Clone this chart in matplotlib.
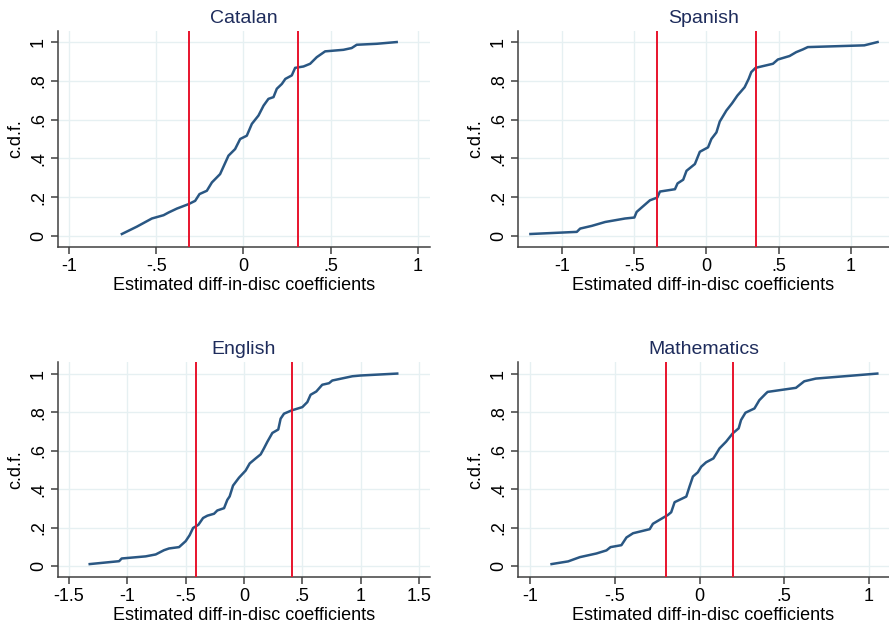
import matplotlib
matplotlib.use("Agg")
import matplotlib.pyplot as plt
import numpy as np

plt.rcParams['font.family'] = ['Liberation Sans', 'DejaVu Sans']

# ---- data ----
cat_x = [-0.697, -0.611, -0.525, -0.458, -0.429, -0.382, -0.315, -0.277, -0.252, -0.210,
         -0.181, -0.134, -0.086, -0.048, -0.019, 0.019, 0.048, 0.086, 0.115, 0.143,
         0.172, 0.191, 0.220, 0.240, 0.277, 0.296, 0.344, 0.382, 0.420, 0.468,
         0.573, 0.620, 0.649, 0.763, 0.878]
cat_y = [0.010, 0.048, 0.090, 0.107, 0.121, 0.141, 0.164, 0.181, 0.216, 0.233,
         0.276, 0.319, 0.414, 0.448, 0.500, 0.517, 0.578, 0.621, 0.672, 0.707,
         0.716, 0.759, 0.784, 0.810, 0.828, 0.867, 0.874, 0.888, 0.922, 0.952,
         0.960, 0.969, 0.986, 0.991, 1.000]

spa_x = [-1.218, -0.897, -0.874, -0.793, -0.701, -0.563, -0.499, -0.483, -0.448, -0.391,
         -0.340, -0.322, -0.218, -0.200, -0.161, -0.138, -0.080, -0.046, 0.011, 0.034,
         0.069, 0.092, 0.138, 0.177, 0.214, 0.264, 0.292, 0.310, 0.340, 0.460,
         0.494, 0.575, 0.621, 0.667, 0.701, 1.092, 1.184]
spa_y = [0.010, 0.021, 0.038, 0.052, 0.072, 0.090, 0.095, 0.124, 0.147, 0.184,
         0.198, 0.229, 0.241, 0.271, 0.290, 0.336, 0.371, 0.434, 0.457, 0.500,
         0.534, 0.590, 0.647, 0.684, 0.724, 0.767, 0.810, 0.845, 0.867, 0.888,
         0.910, 0.928, 0.948, 0.962, 0.974, 0.983, 1.000]

eng_x = [-1.323, -1.071, -1.049, -0.843, -0.757, -0.686, -0.643, -0.557, -0.500, -0.466,
         -0.437, -0.391, -0.351, -0.314, -0.257, -0.229, -0.171, -0.143, -0.123, -0.094,
         -0.043, 0.014, 0.049, 0.100, 0.143, 0.171, 0.200, 0.243, 0.294, 0.314,
         0.343, 0.409, 0.500, 0.543, 0.571, 0.620, 0.671, 0.729, 0.757, 0.929,
         1.000, 1.314]
eng_y = [0.012, 0.027, 0.041, 0.052, 0.062, 0.084, 0.093, 0.100, 0.131, 0.162,
         0.199, 0.216, 0.251, 0.263, 0.273, 0.290, 0.302, 0.345, 0.363, 0.419,
         0.460, 0.497, 0.534, 0.560, 0.581, 0.612, 0.646, 0.692, 0.710, 0.766,
         0.792, 0.809, 0.826, 0.852, 0.890, 0.907, 0.942, 0.950, 0.964, 0.986,
         0.990, 1.000]

mat_x = [-0.873, -0.775, -0.706, -0.608, -0.549, -0.525, -0.461, -0.431, -0.392, -0.294,
         -0.275, -0.225, -0.186, -0.167, -0.147, -0.078, -0.059, -0.039, -0.010, 0.010,
         0.039, 0.082, 0.118, 0.157, 0.196, 0.231, 0.245, 0.271, 0.324, 0.353,
         0.392, 0.402, 0.569, 0.618, 0.686, 1.049]
mat_y = [0.012, 0.026, 0.048, 0.067, 0.083, 0.100, 0.110, 0.150, 0.172, 0.193,
         0.221, 0.247, 0.267, 0.281, 0.333, 0.362, 0.414, 0.466, 0.488, 0.517,
         0.540, 0.560, 0.612, 0.647, 0.690, 0.716, 0.759, 0.797, 0.819, 0.862,
         0.897, 0.905, 0.926, 0.960, 0.974, 1.000]

titles = ["Catalan", "Spanish", "English", "Mathematics"]
bounds = [0.31, 0.34, 0.41, 0.20]
x_ticks = [[-1, -0.5, 0, 0.5, 1], [-1, -0.5, 0, 0.5, 1],
           [-1.5, -1, -0.5, 0, 0.5, 1, 1.5], [-1, -0.5, 0, 0.5, 1]]
x_ticklabels = [["-1", "-.5", "0", ".5", "1"], ["-1", "-.5", "0", ".5", "1"],
                ["-1.5", "-1", "-.5", "0", ".5", "1", "1.5"], ["-1", "-.5", "0", ".5", "1"]]
y_ticks = [0, 0.2, 0.4, 0.6, 0.8, 1]
y_ticklabels = ["0", ".2", ".4", ".6", ".8", "1"]
xlims = [(-1.063, 1.069), (-1.304, 1.263), (-1.595, 1.595), (-1.071, 1.118)]
ylims = [(-0.057, 1.057), (-0.057, 1.057), (-0.055, 1.06), (-0.055, 1.06)]
series = [(cat_x, cat_y), (spa_x, spa_y), (eng_x, eng_y), (mat_x, mat_y)]

W, H = 889, 628
rects = [(58, 31, 430, 247), (518, 31, 889, 247), (58, 362, 430, 577), (518, 362, 889, 577)]

fig = plt.figure(figsize=(W / 100, H / 100), dpi=100)
fig.patch.set_facecolor('white')

line_col = '#2a5783'
red_col = '#e8132c'
grid_col = '#e6f0f2'
axis_col = '#404040'
title_col = '#1e2c5c'

for i in range(4):
    l, t, r, b = rects[i]
    ax = fig.add_axes([l / W, 1 - b / H, (r - l) / W, (b - t) / H])
    x, y = series[i]
    ax.set_xlim(*xlims[i])
    ax.set_ylim(*ylims[i])
    ax.set_xticks(x_ticks[i])
    ax.set_xticklabels(x_ticklabels[i])
    ax.set_yticks(y_ticks)
    ax.set_yticklabels(y_ticklabels, rotation=90, va='center')
    ax.grid(True, color=grid_col, linewidth=1.0, zorder=0)
    ax.set_axisbelow(True)
    ax.plot(x, y, color=line_col, linewidth=1.8, zorder=3, solid_joinstyle='round')
    for v in (-bounds[i], bounds[i]):
        ax.axvline(v, color=red_col, linewidth=1.4, zorder=4)
    for s in ('top', 'right'):
        ax.spines[s].set_visible(False)
    for s in ('left', 'bottom'):
        ax.spines[s].set_color(axis_col)
        ax.spines[s].set_linewidth(1.1)
    ax.tick_params(axis='both', direction='out', length=5, width=1.1, color=axis_col,
                   labelsize=13, labelcolor='black', pad=3)
    ax.set_xlabel("Estimated diff-in-disc coefficients", fontsize=13, labelpad=1)
    ax.set_ylabel("c.d.f.", fontsize=13, labelpad=4)
    ax.set_title(titles[i], fontsize=14, color=title_col, pad=6)

fig.savefig("out.png", dpi=100, facecolor='white')
